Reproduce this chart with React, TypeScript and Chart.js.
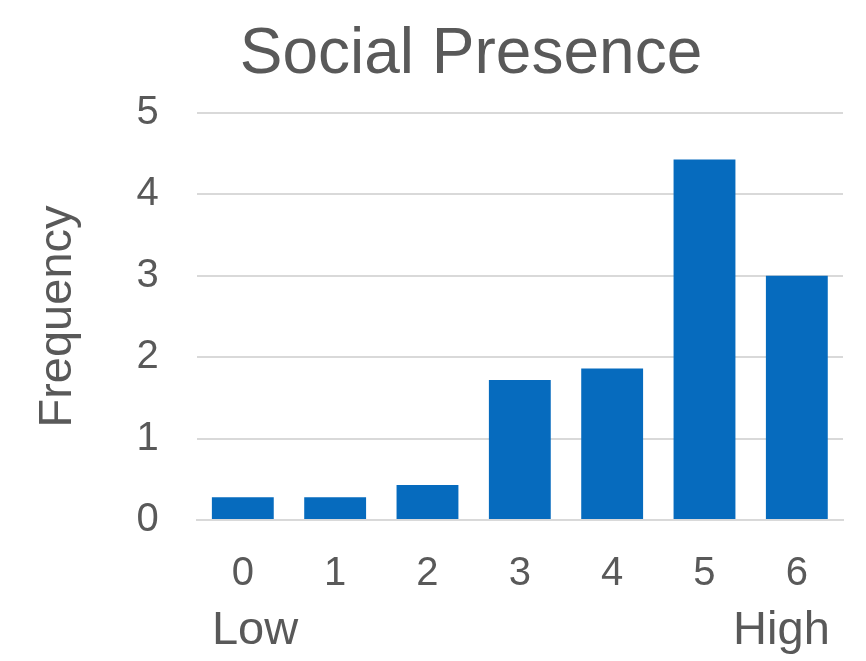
import React, { useEffect, useRef } from "react";
import { Chart, registerables } from "chart.js";

Chart.register(...registerables);

const categories = ["0", "1", "2", "3", "4", "5", "6"];
const frequencies = [0.28, 0.28, 0.43, 1.72, 1.86, 4.43, 3.0];
const titleText = "Social Presence";
const yAxisTitle = "Frequency";
const lowLabel = "Low";
const highLabel = "High";

const FONT = "'Liberation Sans', Arial, sans-serif";
const TEXT = "#595959";
const BAR = "#066BBE";
const GRID = "#D9D9D9";

const textPlugin = {
  id: "extraText",
  afterDraw(chart: any) {
    const meta = chart.getDatasetMeta(0);
    const first = meta.data[0];
    const last = meta.data[meta.data.length - 1];
    const ctx = chart.ctx;
    ctx.save();
    ctx.fillStyle = TEXT;
    ctx.textBaseline = "alphabetic";
    // title
    ctx.font = `64px ${FONT}`;
    ctx.textAlign = "center";
    ctx.fillText(titleText, chart.width / 2 + 38, 73);
    // Low / High
    ctx.font = `47px ${FONT}`;
    const y = chart.height - 17;
    ctx.textAlign = "left";
    ctx.fillText(lowLabel, first.x - first.width / 2, y);
    ctx.textAlign = "right";
    ctx.fillText(highLabel, last.x + last.width / 2 + 2, y);
    ctx.restore();
  },
};

export default function App() {
  const ref = useRef<HTMLCanvasElement | null>(null);
  useEffect(() => {
    if (!ref.current) return;
    const chart = new Chart(ref.current, {
      type: "bar",
      data: {
        labels: categories,
        datasets: [
          {
            data: frequencies,
            backgroundColor: BAR,
            borderWidth: 0,
            barPercentage: 0.67,
            categoryPercentage: 1,
          },
        ],
      },
      options: {
        animation: false,
        responsive: true,
        maintainAspectRatio: false,
        layout: { padding: { left: 0, right: 23, top: 113, bottom: 33 } },
        plugins: {
          legend: { display: false },
          tooltip: { enabled: false },
          title: { display: false },
        },
        scales: {
          x: {
            grid: { display: false, drawTicks: false },
            border: { display: true, color: GRID, width: 2 },
            ticks: {
              color: TEXT,
              font: { family: FONT, size: 40 },
              padding: 30,
            },
          },
          y: {
            min: 0,
            max: 5,
            grid: { color: GRID, lineWidth: 2, drawTicks: false },
            border: { display: false },
            ticks: {
              stepSize: 1,
              color: TEXT,
              font: { family: FONT, size: 40 },
              padding: 38,
            },
            title: {
              display: true,
              text: yAxisTitle,
              color: TEXT,
              font: { family: FONT, size: 47 },
              padding: { top: 30, bottom: 12 },
            },
          },
        },
      },
      plugins: [textPlugin],
    });
    return () => chart.destroy();
  }, []);
  return (
    <div style={{ position: "fixed", left: 0, top: 0, width: 866, height: 661, background: "#fff" }}>
      <canvas ref={ref} />
    </div>
  );
}
